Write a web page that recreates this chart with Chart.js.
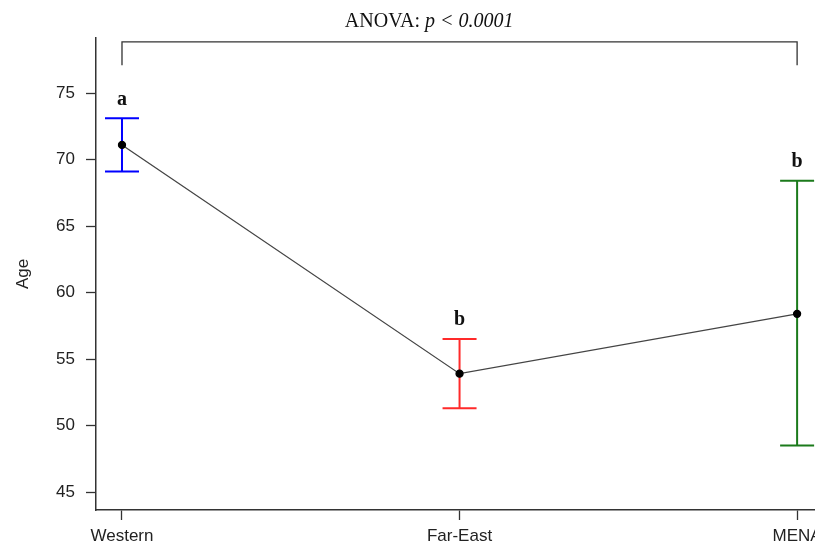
<!DOCTYPE html>
<html>
<head>
<meta charset="utf-8">
<script src="https://cdn.jsdelivr.net/npm/chart.js@4"></script>
<style>
  html, body { margin: 0; padding: 0; background: #fff; }
  #wrap { width: 815px; height: 552px; }
</style>
</head>
<body>
<div id="wrap"><canvas id="c"></canvas></div>
<script>
const categories = ['Western', 'Far-East', 'MENA'];
const meanAge = [71.1, 53.9, 58.4];
const upperAge = [73.1, 56.5, 68.4];
const lowerAge = [69.1, 51.3, 48.5];
const groupLetters = ['a', 'b', 'b'];
const barColors = ['#0000ff', '#ff2a2a', '#1b7a1b'];
const yTicks = [45, 50, 55, 60, 65, 70, 75];
const anovaText = ['ANOVA: ', 'p < 0.0001'];

const axisColor = '#333';

// error bars, group letters and the ANOVA bracket
const annotations = {
  id: 'annotations',
  beforeDatasetsDraw(chart, args, opts) {
    const { ctx, scales: { x, y } } = chart;
    ctx.save();
    ctx.lineWidth = opts.barWidth;
    meanAge.forEach((m, i) => {
      const px = x.getPixelForValue(i);
      const top = y.getPixelForValue(upperAge[i]);
      const bot = y.getPixelForValue(lowerAge[i]);
      ctx.strokeStyle = barColors[i];
      ctx.beginPath();
      ctx.moveTo(px, top);
      ctx.lineTo(px, bot);
      ctx.moveTo(px - opts.capHalf, top);
      ctx.lineTo(px + opts.capHalf, top);
      ctx.moveTo(px - opts.capHalf, bot);
      ctx.lineTo(px + opts.capHalf, bot);
      ctx.stroke();
    });
    ctx.restore();
  },
  afterDatasetsDraw(chart, args, opts) {
    const { ctx, scales: { x, y } } = chart;
    ctx.save();

    // letters above each bar
    ctx.fillStyle = '#111';
    ctx.font = 'bold 20px "Liberation Serif", serif';
    ctx.textAlign = 'center';
    ctx.textBaseline = 'middle';
    groupLetters.forEach((l, i) => {
      ctx.fillText(l, x.getPixelForValue(i), y.getPixelForValue(upperAge[i]) - 19);
    });

    // bracket
    const x0 = x.getPixelForValue(0);
    const x1 = x.getPixelForValue(categories.length - 1);
    const yb = y.getPixelForValue(opts.bracketTop);
    const yl = y.getPixelForValue(opts.bracketLeg);
    ctx.strokeStyle = axisColor;
    ctx.lineWidth = 1.3;
    ctx.beginPath();
    ctx.moveTo(x0, yl);
    ctx.lineTo(x0, yb);
    ctx.lineTo(x1, yb);
    ctx.lineTo(x1, yl);
    ctx.stroke();

    // ANOVA label
    const fontA = '20px "Liberation Serif", serif';
    const fontB = 'italic 20px "Liberation Serif", serif';
    ctx.font = fontA;
    const wA = ctx.measureText(anovaText[0]).width;
    ctx.font = fontB;
    const wB = ctx.measureText(anovaText[1]).width;
    const cx = x.getPixelForValue(opts.labelCenter);
    const ty = yb - 20;
    ctx.textAlign = 'left';
    ctx.fillStyle = '#111';
    ctx.font = fontA;
    ctx.fillText(anovaText[0], cx - (wA + wB) / 2, ty);
    ctx.font = fontB;
    ctx.fillText(anovaText[1], cx - (wA + wB) / 2 + wA, ty);
    ctx.restore();
  },
};

new Chart(document.getElementById('c'), {
  type: 'line',
  data: {
    datasets: [
      {
        data: meanAge.map((v, i) => ({ x: i, y: v })),
        borderColor: '#444',
        borderWidth: 1.3,
        pointRadius: 3.5,
        pointBackgroundColor: '#000',
        pointBorderColor: '#000',
        tension: 0,
      },
    ],
  },
  plugins: [annotations],
  options: {
    responsive: true,
    maintainAspectRatio: false,
    animation: false,
    layout: { autoPadding: false, padding: { top: 38, left: 0, right: 0, bottom: 0 } },
    plugins: {
      legend: { display: false },
      tooltip: { enabled: false },
      annotations: {
        barWidth: 2,
        capHalf: 17,
        bracketTop: 78.85,
        bracketLeg: 77.1,
        labelCenter: 0.91,
      },
    },
    scales: {
      x: {
        type: 'linear',
        min: -0.077,
        max: 2.053,
        afterBuildTicks: (axis) => {
          axis.ticks = categories.map((c, i) => ({ value: i }));
        },
        afterFit: (axis) => {
          axis.height = 42;
          axis.paddingLeft = 0;
          axis.paddingRight = 0;
        },
        ticks: {
          callback: (v) => categories[v],
          color: '#222',
          font: { family: '"Liberation Sans", Arial, sans-serif', size: 17 },
          padding: 6,
          maxRotation: 0,
          autoSkip: false,
        },
        grid: {
          drawOnChartArea: false,
          drawTicks: true,
          tickLength: 10,
          tickColor: axisColor,
          tickWidth: 1.3,
        },
        border: { display: true, color: axisColor, width: 1.5 },
      },
      y: {
        min: 43.65,
        max: 79.14,
        afterBuildTicks: (axis) => {
          axis.ticks = yTicks.map((v) => ({ value: v }));
        },
        afterFit: (axis) => {
          axis.width = 96;
        },
        ticks: {
          color: '#222',
          font: { family: '"Liberation Sans", Arial, sans-serif', size: 17 },
          padding: 11,
        },
        grid: {
          drawOnChartArea: false,
          drawTicks: true,
          tickLength: 10,
          tickColor: axisColor,
          tickWidth: 1.3,
        },
        border: { display: true, color: axisColor, width: 1.5 },
        title: {
          display: true,
          text: 'Age',
          color: '#222',
          font: { family: '"Liberation Sans", Arial, sans-serif', size: 17 },
          padding: { top: 13, bottom: 0 },
        },
      },
    },
  },
});
</script>
</body>
</html>
